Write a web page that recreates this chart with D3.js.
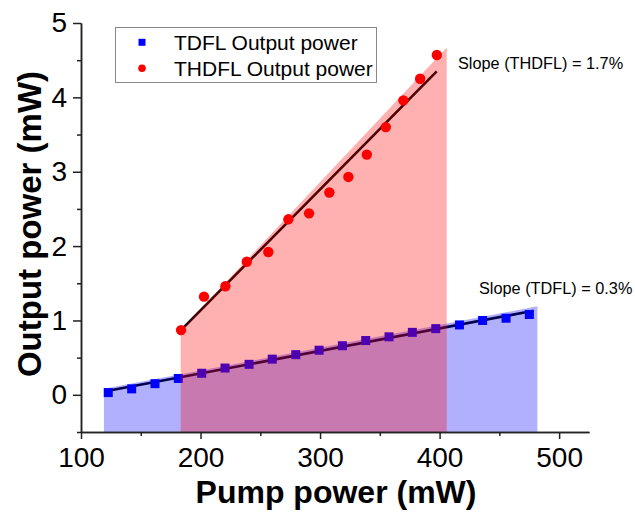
<!DOCTYPE html>
<html>
<head>
<meta charset="utf-8">
<script src="https://cdn.jsdelivr.net/npm/d3@7"></script>
<style>
  body { margin: 0; background: #fff; }
  text { font-family: "Liberation Sans", Arial, sans-serif; }
</style>
</head>
<body>
<div id="chart"></div>
<script>
// data
var tdfl_pump = [122.8, 142.4, 161.9, 181.4, 201, 220.5, 240.6, 260, 279.7, 299.2,
  318.7, 338.2, 357.7, 377.2, 396.8, 416.6, 436, 455.6, 475.1];
var tdfl_power = [0.03, 0.08, 0.15, 0.22, 0.29, 0.36, 0.41, 0.48, 0.54, 0.60,
  0.66, 0.73, 0.78, 0.84, 0.89, 0.94, 1.0, 1.03, 1.08];

var thdfl_pump = [183.7, 202.9, 220.8, 238.7, 256.7, 273.5, 290.8, 307.8, 323.7,
  339.1, 355, 369.7, 383.7, 397.7];
var thdfl_power = [0.87, 1.32, 1.46, 1.79, 1.92, 2.36, 2.44, 2.72, 2.93, 3.23,
  3.60, 3.96, 4.25, 4.57];

// linear fit end points and shaded band top edges
var tdfl_fit = [[122.8, 0.054], [478.5, 1.13]];
var thdfl_fit = [[183.7, 0.87], [397.6, 4.35]];
var tdfl_band = [[119.2, 0.08], [481.8, 1.19]];
var thdfl_band = [[183.4, 0.87], [406, 4.67]];

var x_ticks = [100, 200, 300, 400, 500];
var x_minor = [150, 250, 350, 450];
var y_ticks = [0, 1, 2, 3, 4, 5];
var y_minor = [-0.5, 0.5, 1.5, 2.5, 3.5, 4.5];

var legend_labels = ["TDFL Output power", "THDFL Output power"];
var slope_labels = ["Slope (THDFL) = 1.7%", "Slope (TDFL) = 0.3%"];

var width = 635, height = 516;

var x = d3.scaleLinear().domain([100, 525]).range([81, 589]);
var y = d3.scaleLinear().domain([-0.5, 5]).range([432, 23]);

var svg = d3.select("#chart").append("svg")
  .attr("width", width)
  .attr("height", height);

var line = d3.line()
  .x(function (d) { return x(d[0]); })
  .y(function (d) { return y(d[1]); });

// fit lines
svg.selectAll(".fit")
  .data([tdfl_fit, thdfl_fit])
  .enter().append("path")
  .attr("d", line)
  .attr("fill", "none")
  .attr("stroke", "#000")
  .attr("stroke-width", 2.6);

// markers
var tdfl = tdfl_pump.map(function (p, i) { return [p, tdfl_power[i]]; });
var thdfl = thdfl_pump.map(function (p, i) { return [p, thdfl_power[i]]; });

svg.selectAll(".sq")
  .data(tdfl)
  .enter().append("rect")
  .attr("x", function (d) { return x(d[0]) - 4.5; })
  .attr("y", function (d) { return y(d[1]) - 4.5; })
  .attr("width", 9)
  .attr("height", 9)
  .attr("fill", "#0000ff");

svg.selectAll(".dot")
  .data(thdfl)
  .enter().append("circle")
  .attr("cx", function (d) { return x(d[0]); })
  .attr("cy", function (d) { return y(d[1]); })
  .attr("r", 5.2)
  .attr("fill", "#ff0000");

// shaded bands, drawn over the marks
var area = d3.area()
  .x(function (d) { return x(d[0]); })
  .y0(y(-0.5))
  .y1(function (d) { return y(d[1]); });

svg.append("path")
  .datum(tdfl_band)
  .attr("d", area)
  .attr("fill", "#0000ff")
  .attr("fill-opacity", 0.31);

svg.append("path")
  .datum(thdfl_band)
  .attr("d", area)
  .attr("fill", "#ff0000")
  .attr("fill-opacity", 0.31);

// axes
var xAxis = svg.append("g")
  .attr("transform", "translate(0," + y(-0.5) + ")")
  .call(d3.axisBottom(x).tickValues(x_ticks).tickSize(7).tickSizeOuter(0).tickPadding(8));
svg.append("g")
  .attr("transform", "translate(0," + y(-0.5) + ")")
  .call(d3.axisBottom(x).tickValues(x_minor).tickSize(4).tickSizeOuter(0).tickFormat(""));

var yAxis = svg.append("g")
  .attr("transform", "translate(" + x(100) + ",0)")
  .call(d3.axisLeft(y).tickValues(y_ticks).tickSize(8).tickSizeOuter(0)
    .tickPadding(6).tickFormat(d3.format("d")));
svg.append("g")
  .attr("transform", "translate(" + x(100) + ",0)")
  .call(d3.axisLeft(y).tickValues(y_minor).tickSize(4).tickSizeOuter(0).tickFormat(""));

svg.selectAll(".domain, .tick line")
  .attr("stroke", "#222")
  .attr("stroke-width", 1.5);
xAxis.selectAll("text")
  .attr("font-size", 28)
  .attr("fill", "#000");
yAxis.selectAll("text")
  .attr("font-size", 28)
  .attr("fill", "#000");

// axis titles
svg.append("text")
  .attr("x", 336)
  .attr("y", 503)
  .attr("text-anchor", "middle")
  .attr("font-size", 32)
  .attr("font-weight", "bold")
  .text("Pump power (mW)");

svg.append("text")
  .attr("transform", "translate(41,224) rotate(-90)")
  .attr("text-anchor", "middle")
  .attr("font-size", 33)
  .attr("font-weight", "bold")
  .text("Output power (mW)");

// legend
var legend = svg.append("g");
legend.append("rect")
  .attr("x", 115.5)
  .attr("y", 27.5)
  .attr("width", 261)
  .attr("height", 55)
  .attr("fill", "#fff")
  .attr("stroke", "#888")
  .attr("stroke-width", 1);
legend.append("rect")
  .attr("x", 138.5)
  .attr("y", 38.8)
  .attr("width", 7)
  .attr("height", 7)
  .attr("fill", "#0000ff");
legend.append("circle")
  .attr("cx", 142)
  .attr("cy", 68.3)
  .attr("r", 3.8)
  .attr("fill", "#ff0000");
legend.selectAll(".lab")
  .data(legend_labels)
  .enter().append("text")
  .attr("x", 174)
  .attr("y", function (d, i) { return 50 + i * 25.5; })
  .attr("font-size", 21)
  .text(function (d) { return d; });

// slope annotations
svg.append("text")
  .attr("x", 458)
  .attr("y", 69)
  .attr("font-size", 16.3)
  .text(slope_labels[0]);
svg.append("text")
  .attr("x", 479)
  .attr("y", 294)
  .attr("font-size", 16.3)
  .text(slope_labels[1]);
</script>
</body>
</html>
